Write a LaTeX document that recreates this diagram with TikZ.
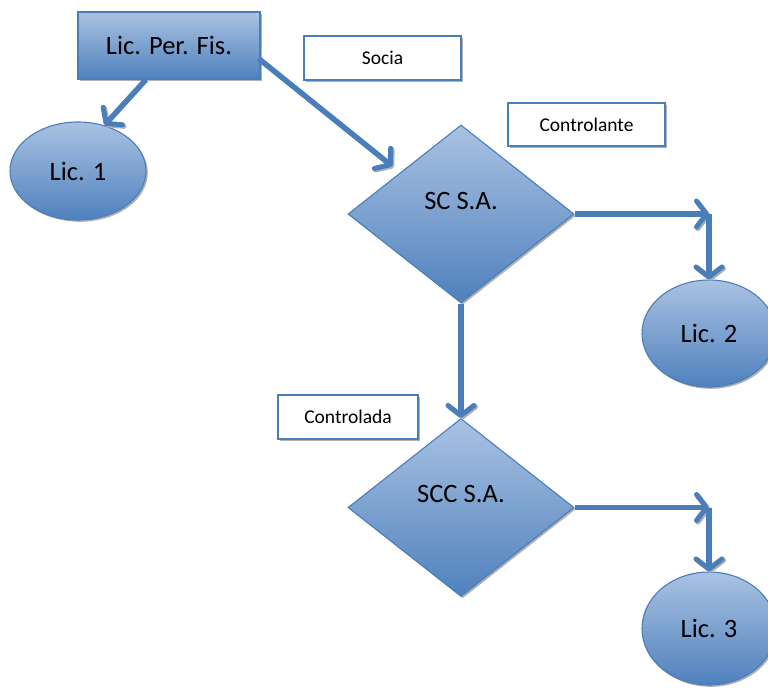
\documentclass[tikz,border=0pt]{standalone}
\usepackage{fontspec}
\setmainfont{Carlito}
\usetikzlibrary{shapes.geometric,arrows.meta,shadows}
\definecolor{accent}{HTML}{4A7EBB}
\definecolor{lightfill}{HTML}{AAC2E2}
\definecolor{darkfill}{HTML}{4F81BD}
\definecolor{shadowgray}{HTML}{B0B0B0}
\begin{document}
\begin{tikzpicture}[x=1pt,y=-1pt,
  softshadow/.style={drop shadow={shadow xshift=1.8pt,shadow yshift=-1.8pt,fill=shadowgray,opacity=1}},
  shadedshape/.style={draw=accent, line width=1.1pt, top color=lightfill, bottom color=darkfill, softshadow,
    font=\fontsize{26.5}{31}\selectfont, text=black, inner sep=0pt},
  bigbox/.style={shadedshape, rectangle, minimum width=182pt, minimum height=67pt},
  oval/.style={shadedshape, ellipse},
  rhomb/.style={shadedshape, diamond, minimum width=226pt, minimum height=178pt},
  tag/.style={rectangle, draw=accent, line width=1.1pt, fill=white, softshadow,
    font=\fontsize{19.5}{23}\selectfont, inner sep=0pt},
  link/.style={draw=accent, line width=5.5pt,
    -{Straight Barb[length=10pt,width=26pt,line width=5pt,round]},
    preaction={draw=shadowgray, transform canvas={shift={(1.5pt,-1.5pt)}}}},
  plain/.style={font=\fontsize{26.5}{31}\selectfont}
]
\useasboundingbox (0,0) rectangle (768,688);

% shapes
\node[bigbox] (pf) at (169,45.5) {Lic. Per. Fis.};
\node[oval, minimum width=136pt, minimum height=98pt] (l1) at (78,171) {Lic. 1};
\node[rhomb] (sc) at (461,214) {};
\node[plain] (sctext) at (461,201) {SC S.A.};
\node[rhomb] (scc) at (461,507.5) {};
\node[plain] (scctext) at (461,494) {SCC S.A.};
\node[oval, minimum width=134pt, minimum height=107pt] (l2) at (709,333.5) {Lic. 2};
\node[oval, minimum width=134pt, minimum height=113pt] (l3) at (709,628.5) {Lic. 3};

% relation tags
\node[tag, minimum width=157pt, minimum height=44pt] (socia) at (382.5,58) {Socia};
\node[tag, minimum width=157pt, minimum height=43pt] (ctrl) at (586.5,124.5) {Controlante};
\node[tag, minimum width=140pt, minimum height=44pt] (ctrd) at (348,417) {Controlada};

% bend points of the right-hand connectors
\coordinate (c1) at (sc.east -| l2.north);
\coordinate (c2) at (scc.east -| l3.north);

% connectors
\draw[link] ([xshift=-23pt]pf.south) -- (l1.60);
\draw[link] ([yshift=21pt,xshift=-2pt]pf.south east) -- ([xshift=-12pt,yshift=3pt]sc.north west);
\draw[link] (sc.east) -- (c1);
\draw[link] (c1) -- (l2.north);
\draw[link] (sc.south) -- (scc.north);
\draw[link] (scc.east) -- (c2);
\draw[link] (c2) -- (l3.north);
\end{tikzpicture}
\end{document}
